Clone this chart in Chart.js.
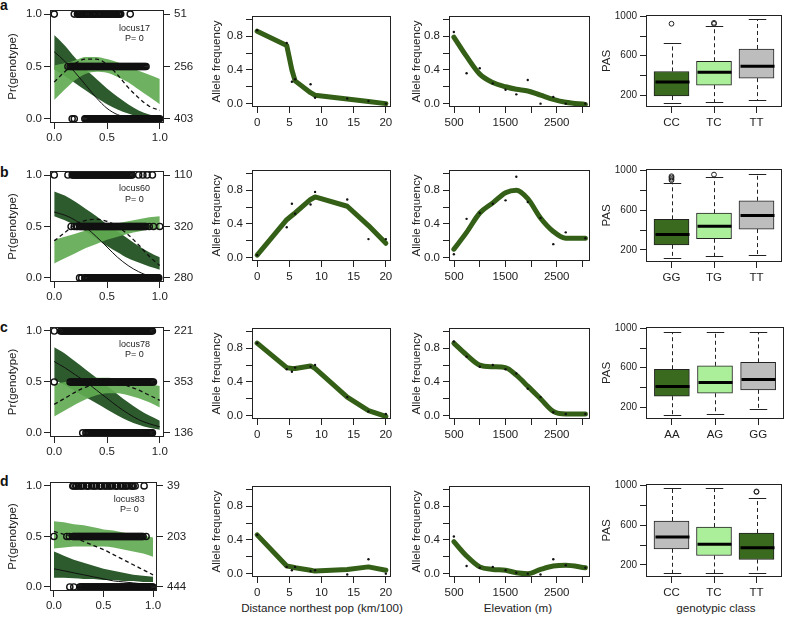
<!DOCTYPE html>
<html>
<head>
<meta charset="utf-8">
<title>Genotype clines</title>
<script src="https://cdn.jsdelivr.net/npm/chart.js@4.4.1/dist/chart.umd.min.js"></script>
<style>
  html, body { margin: 0; padding: 0; background: #fff; }
  body { position: relative; width: 787px; height: 618px; overflow: hidden; font-family: "Liberation Sans", Arial, sans-serif; }
  canvas { position: absolute; }
  .tag { position: absolute; left: 0; font: bold 14px "Liberation Sans", Arial, sans-serif; line-height: 14px; color: #111; }
  .xt { position: absolute; top: 601px; width: 240px; margin-left: -120px; text-align: center; font-size: 11.6px; line-height: 14px; color: #222; white-space: nowrap; }
</style>
</head>
<body>
<div class="tag" style="top:-2px">a</div>
<div class="tag" style="top:165px">b</div>
<div class="tag" style="top:320px">c</div>
<div class="tag" style="top:474px">d</div>
<div class="xt" style="left:322px">Distance northest pop (km/100)</div>
<div class="xt" style="left:518px">Elevation (m)</div>
<div class="xt" style="left:716px">genotypic class</div>
<script>
// ---------- data ----------
var loci = ['locus17', 'locus60', 'locus78', 'locus83'];
var genoCounts = [[51, 256, 403], [110, 320, 280], [221, 353, 136], [39, 203, 444]];

var probTicks = [0, 0.5, 1];
var probLabels = ['0.0', '0.5', '1.0'];
var fitX = [0, 0.1, 0.2, 0.3, 0.4, 0.5, 0.6, 0.7, 0.8, 0.9, 1];

var darkHi = [
  [0.80, 0.70, 0.58, 0.47, 0.38, 0.29, 0.21, 0.14, 0.08, 0.04, 0.02],
  [0.84, 0.80, 0.74, 0.67, 0.60, 0.52, 0.45, 0.38, 0.31, 0.25, 0.20],
  [0.84, 0.78, 0.70, 0.62, 0.54, 0.46, 0.38, 0.30, 0.23, 0.17, 0.12],
  [0.35, 0.31, 0.27, 0.24, 0.21, 0.18, 0.16, 0.14, 0.12, 0.11, 0.10]
];
var darkLo = [
  [0.47, 0.41, 0.34, 0.27, 0.20, 0.14, 0.09, 0.05, 0.02, 0.01, 0.00],
  [0.60, 0.56, 0.51, 0.45, 0.38, 0.31, 0.25, 0.19, 0.15, 0.11, 0.08],
  [0.52, 0.47, 0.41, 0.35, 0.29, 0.23, 0.17, 0.12, 0.08, 0.05, 0.03],
  [0.09, 0.09, 0.085, 0.08, 0.08, 0.07, 0.07, 0.06, 0.06, 0.05, 0.05]
];
var lightHi = [
  [0.51, 0.53, 0.56, 0.59, 0.59, 0.57, 0.54, 0.50, 0.46, 0.42, 0.38],
  [0.37, 0.40, 0.43, 0.46, 0.49, 0.51, 0.53, 0.55, 0.57, 0.59, 0.60],
  [0.48, 0.50, 0.52, 0.53, 0.54, 0.54, 0.53, 0.52, 0.50, 0.48, 0.46],
  [0.65, 0.64, 0.62, 0.61, 0.59, 0.57, 0.56, 0.54, 0.52, 0.51, 0.49]
];
var lightLo = [
  [0.18, 0.28, 0.37, 0.43, 0.45, 0.44, 0.40, 0.35, 0.28, 0.21, 0.14],
  [0.14, 0.19, 0.24, 0.29, 0.33, 0.37, 0.40, 0.43, 0.45, 0.47, 0.47],
  [0.16, 0.22, 0.28, 0.33, 0.37, 0.39, 0.39, 0.37, 0.34, 0.30, 0.25],
  [0.38, 0.39, 0.40, 0.40, 0.40, 0.40, 0.39, 0.37, 0.35, 0.33, 0.30]
];
var solidFit = [
  [0.64, 0.55, 0.44, 0.32, 0.20, 0.10, 0.04, 0.015, 0.005, 0.0, 0.0],
  [0.64, 0.61, 0.56, 0.49, 0.40, 0.30, 0.20, 0.12, 0.06, 0.02, 0.01],
  [0.70, 0.64, 0.57, 0.50, 0.42, 0.34, 0.26, 0.19, 0.13, 0.09, 0.06],
  [0.18, 0.16, 0.14, 0.12, 0.10, 0.08, 0.06, 0.05, 0.04, 0.03, 0.02]
];
var dashFit = [
  [0.35, 0.45, 0.53, 0.57, 0.57, 0.52, 0.42, 0.30, 0.20, 0.12, 0.08],
  [0.36, 0.44, 0.52, 0.56, 0.57, 0.55, 0.50, 0.42, 0.32, 0.21, 0.12],
  [0.28, 0.34, 0.40, 0.45, 0.48, 0.50, 0.49, 0.46, 0.42, 0.37, 0.32],
  [0.55, 0.52, 0.49, 0.45, 0.41, 0.37, 0.32, 0.27, 0.22, 0.17, 0.12]
];

// individual positions (x) per genotype: homozygote 1, heterozygote, homozygote 0
var hom1X = [
  [0, 0.19, 0.22, 0.225, 0.23, 0.24, 0.25, 0.26, 0.27, 0.285, 0.3, 0.31, 0.32, 0.33, 0.345, 0.36, 0.37, 0.38, 0.39, 0.405, 0.42, 0.43, 0.44, 0.45, 0.465, 0.48, 0.49, 0.5, 0.51, 0.52, 0.53, 0.545, 0.56, 0.57, 0.58, 0.59, 0.605, 0.61, 0.62, 0.63, 0.72],
  [0, 0.13, 0.17, 0.18, 0.19, 0.2, 0.21, 0.22, 0.23, 0.24, 0.25, 0.26, 0.27, 0.28, 0.29, 0.3, 0.31, 0.32, 0.33, 0.34, 0.35, 0.36, 0.37, 0.38, 0.39, 0.4, 0.41, 0.42, 0.43, 0.44, 0.45, 0.46, 0.47, 0.48, 0.49, 0.5, 0.51, 0.52, 0.53, 0.54, 0.55, 0.56, 0.57, 0.58, 0.59, 0.6, 0.61, 0.62, 0.63, 0.64, 0.65, 0.66, 0.67, 0.68, 0.69, 0.7, 0.71, 0.72, 0.73, 0.74, 0.8, 0.84, 0.88, 0.93],
  [0, 0.06, 0.07, 0.08, 0.09, 0.1, 0.11, 0.12, 0.13, 0.14, 0.15, 0.16, 0.17, 0.18, 0.19, 0.2, 0.21, 0.22, 0.23, 0.24, 0.25, 0.26, 0.27, 0.28, 0.29, 0.3, 0.31, 0.32, 0.33, 0.34, 0.35, 0.36, 0.37, 0.38, 0.39, 0.4, 0.41, 0.42, 0.43, 0.44, 0.45, 0.46, 0.47, 0.48, 0.49, 0.5, 0.51, 0.52, 0.53, 0.54, 0.55, 0.56, 0.57, 0.58, 0.59, 0.6, 0.61, 0.62, 0.63, 0.64, 0.65, 0.66, 0.67, 0.68, 0.69, 0.7, 0.71, 0.72, 0.73, 0.74, 0.75, 0.76, 0.77, 0.78, 0.79, 0.8, 0.81, 0.82, 0.83, 0.84, 0.85, 0.86, 0.87, 0.88, 0.89, 0.9, 0.91, 0.92, 0.93],
  [0.19, 0.2, 0.22, 0.23, 0.25, 0.27, 0.28, 0.3, 0.33, 0.34, 0.35, 0.38, 0.4, 0.41, 0.43, 0.46, 0.47, 0.48, 0.51, 0.52, 0.54, 0.56, 0.57, 0.59, 0.62, 0.63, 0.64, 0.67, 0.68, 0.7, 0.72, 0.73, 0.75, 0.78, 0.79, 0.8, 0.82, 0.91]
];
var hetX = [
  [0.13, 0.15, 0.16, 0.17, 0.18, 0.19, 0.2, 0.21, 0.22, 0.23, 0.24, 0.25, 0.26, 0.27, 0.28, 0.29, 0.3, 0.31, 0.32, 0.33, 0.34, 0.35, 0.36, 0.37, 0.38, 0.39, 0.4, 0.41, 0.42, 0.43, 0.44, 0.45, 0.46, 0.47, 0.48, 0.49, 0.5, 0.51, 0.52, 0.53, 0.54, 0.55, 0.56, 0.57, 0.58, 0.59, 0.6, 0.61, 0.62, 0.63, 0.64, 0.65, 0.66, 0.67, 0.68, 0.69, 0.7, 0.71, 0.72, 0.73, 0.74, 0.75, 0.76, 0.77, 0.78, 0.79, 0.8, 0.81, 0.82, 0.83, 0.84, 0.85, 0.86, 0.87],
  [0.16, 0.19, 0.21, 0.22, 0.24, 0.25, 0.26, 0.27, 0.28, 0.29, 0.3, 0.31, 0.32, 0.33, 0.34, 0.35, 0.36, 0.37, 0.38, 0.39, 0.4, 0.41, 0.42, 0.43, 0.44, 0.45, 0.46, 0.47, 0.48, 0.49, 0.5, 0.51, 0.52, 0.53, 0.54, 0.55, 0.56, 0.57, 0.58, 0.59, 0.6, 0.61, 0.62, 0.63, 0.64, 0.65, 0.66, 0.67, 0.68, 0.69, 0.7, 0.71, 0.72, 0.73, 0.74, 0.75, 0.76, 0.77, 0.78, 0.79, 0.8, 0.81, 0.82, 0.83, 0.84, 0.85, 0.86, 0.87, 0.9, 0.94, 1.0],
  [0, 0.15, 0.16, 0.17, 0.18, 0.19, 0.2, 0.21, 0.22, 0.23, 0.24, 0.25, 0.26, 0.27, 0.28, 0.29, 0.3, 0.31, 0.32, 0.33, 0.34, 0.35, 0.36, 0.37, 0.38, 0.39, 0.4, 0.41, 0.42, 0.43, 0.44, 0.45, 0.46, 0.47, 0.48, 0.49, 0.5, 0.51, 0.52, 0.53, 0.54, 0.55, 0.56, 0.57, 0.58, 0.59, 0.6, 0.61, 0.62, 0.63, 0.64, 0.65, 0.66, 0.67, 0.68, 0.69, 0.7, 0.71, 0.72, 0.73, 0.74, 0.75, 0.76, 0.77, 0.78, 0.79, 0.8, 0.81, 0.82, 0.83, 0.84, 0.85, 0.86, 0.87, 0.88, 0.89, 0.9, 0.91, 0.92, 0.93, 0.94],
  [0, 0.13, 0.155, 0.19, 0.2, 0.21, 0.22, 0.23, 0.24, 0.25, 0.26, 0.27, 0.28, 0.29, 0.3, 0.31, 0.32, 0.33, 0.34, 0.35, 0.36, 0.37, 0.38, 0.39, 0.4, 0.41, 0.42, 0.43, 0.44, 0.45, 0.46, 0.47, 0.48, 0.49, 0.5, 0.51, 0.52, 0.53, 0.54, 0.55, 0.56, 0.57, 0.58, 0.59, 0.6, 0.61, 0.62, 0.63, 0.64, 0.65, 0.66, 0.67, 0.68, 0.69, 0.7, 0.71, 0.72, 0.73, 0.74, 0.75, 0.76, 0.77, 0.78, 0.79, 0.8, 0.81, 0.82, 0.83, 0.84, 0.85, 0.86, 0.87, 0.88, 0.89, 0.9, 0.93]
];
var hom0X = [
  [0.17, 0.19, 0.29, 0.3, 0.31, 0.32, 0.33, 0.34, 0.35, 0.36, 0.37, 0.38, 0.39, 0.4, 0.41, 0.42, 0.43, 0.44, 0.45, 0.46, 0.47, 0.48, 0.49, 0.5, 0.51, 0.52, 0.53, 0.54, 0.55, 0.56, 0.57, 0.58, 0.59, 0.6, 0.61, 0.62, 0.63, 0.64, 0.65, 0.66, 0.67, 0.68, 0.69, 0.7, 0.71, 0.72, 0.73, 0.74, 0.75, 0.76, 0.77, 0.78, 0.79, 0.8, 0.81, 0.82, 0.83, 0.84, 0.85, 0.86, 0.87, 0.88, 0.89, 0.9, 0.91, 0.92, 0.93, 0.94, 0.95, 0.96, 0.97, 0.98, 0.99, 1.0],
  [0.24, 0.26, 0.29, 0.3, 0.31, 0.32, 0.33, 0.34, 0.35, 0.36, 0.37, 0.38, 0.39, 0.4, 0.41, 0.42, 0.43, 0.44, 0.45, 0.46, 0.47, 0.48, 0.49, 0.5, 0.51, 0.52, 0.53, 0.54, 0.55, 0.56, 0.57, 0.58, 0.59, 0.6, 0.61, 0.62, 0.63, 0.64, 0.65, 0.66, 0.67, 0.68, 0.69, 0.7, 0.71, 0.72, 0.73, 0.74, 0.75, 0.76, 0.77, 0.78, 0.79, 0.8, 0.81, 0.82, 0.83, 0.84, 0.85, 0.86, 0.87, 0.88, 0.89, 0.9, 0.91, 0.92, 0.93, 0.94, 0.95, 0.96, 0.97, 0.98, 0.99],
  [0.27, 0.3, 0.31, 0.32, 0.33, 0.34, 0.35, 0.36, 0.37, 0.38, 0.39, 0.4, 0.41, 0.42, 0.43, 0.44, 0.45, 0.46, 0.47, 0.48, 0.49, 0.5, 0.51, 0.52, 0.53, 0.54, 0.55, 0.56, 0.57, 0.58, 0.59, 0.6, 0.61, 0.62, 0.63, 0.64, 0.65, 0.66, 0.67, 0.68, 0.69, 0.7, 0.71, 0.72, 0.73, 0.74, 0.75, 0.76, 0.77, 0.78, 0.79, 0.8, 0.81, 0.82, 0.83, 0.84, 0.85, 0.86, 0.87, 0.88, 0.89, 0.9, 0.91, 0.92, 0.93],
  [0.16, 0.2, 0.26, 0.27, 0.28, 0.29, 0.3, 0.31, 0.32, 0.33, 0.34, 0.35, 0.36, 0.37, 0.38, 0.39, 0.4, 0.41, 0.42, 0.43, 0.44, 0.45, 0.46, 0.47, 0.48, 0.49, 0.5, 0.51, 0.52, 0.53, 0.54, 0.55, 0.56, 0.57, 0.58, 0.59, 0.6, 0.61, 0.62, 0.63, 0.64, 0.65, 0.66, 0.67, 0.68, 0.69, 0.7, 0.71, 0.72, 0.73, 0.74, 0.75, 0.76, 0.77, 0.78, 0.79, 0.8, 0.81, 0.82, 0.83, 0.84, 0.85, 0.86, 0.87, 0.88, 0.89, 0.9, 0.91, 0.92, 0.93, 0.94, 0.95, 0.96, 0.97, 0.98, 0.99, 1.0]
];

var freqTicks = [0, 0.2, 0.4, 0.6, 0.8, 1];
var freqLabels = ['0.0', '', '0.4', '', '0.8', ''];

var distTicks = [0, 5, 10, 15, 20];
var distLabels = ['0', '5', '10', '15', '20'];
var distSites = [0, 4.6, 5.4, 5.9, 8.3, 9.0, 14.0, 17.3, 20];
var distFit = [
  [0.86, 0.69, 0.40, 0.27, 0.13, 0.10, 0.055, 0.025, 0.0],
  [0.03, 0.45, 0.50, 0.53, 0.69, 0.72, 0.61, 0.38, 0.17],
  [0.86, 0.57, 0.56, 0.56, 0.59, 0.56, 0.22, 0.06, -0.01],
  [0.46, 0.09, 0.08, 0.07, 0.04, 0.03, 0.05, 0.08, 0.04]
];
var distObs = [
  [0.87, 0.72, 0.26, 0.29, 0.23, 0.07, 0.06, 0.03, 0.0],
  [0.03, 0.36, 0.64, 0.52, 0.63, 0.78, 0.69, 0.22, 0.22],
  [0.86, 0.55, 0.52, 0.57, 0.58, 0.60, 0.22, 0.05, 0.02],
  [0.46, 0.08, 0.04, 0.08, 0.03, 0.04, -0.01, 0.17, 0.0]
];

var elevTicks = [500, 1000, 1500, 2000, 2500, 3000];
var elevLabels = ['500', '', '1500', '', '2500', ''];
var elevSites = [495, 743, 1000, 1254, 1503, 1713, 1936, 2185, 2434, 2677, 3060];
var elevFit = [
  [0.79, 0.56, 0.35, 0.25, 0.20, 0.17, 0.15, 0.10, 0.05, 0.016, -0.01],
  [0.10, 0.30, 0.53, 0.65, 0.77, 0.80, 0.70, 0.47, 0.31, 0.23, 0.23],
  [0.86, 0.72, 0.60, 0.58, 0.57, 0.48, 0.35, 0.20, 0.05, 0.02, 0.02],
  [0.38, 0.21, 0.08, 0.05, 0.04, 0.01, 0.0, 0.05, 0.09, 0.10, 0.07]
];
var elevObs = [
  [0.85, 0.36, 0.42, 0.24, 0.165, 0.11, 0.28, 0.0, 0.08, 0.0, 0.0],
  [0.04, 0.46, 0.53, 0.64, 0.68, 0.96, 0.66, 0.47, 0.16, 0.30, 0.23],
  [0.88, 0.70, 0.58, 0.60, 0.55, 0.50, 0.32, 0.22, 0.04, 0.02, 0.02],
  [0.44, 0.09, 0.07, 0.08, 0.04, 0.01, 0.0, -0.01, 0.17, 0.10, 0.07]
];

var pasTicks = [200, 400, 600, 800, 1000];
var pasLabels = ['200', '', '600', '', '1000'];
var boxClasses = [['CC', 'TC', 'TT'], ['GG', 'TG', 'TT'], ['AA', 'AG', 'GG'], ['CC', 'TC', 'TT']];
var pasMin = [[116, 133, 149], [115, 136, 149], [120, 130, 180], [116, 116, 116]];
var pasQ1  = [[190, 301, 372], [251, 312, 410], [310, 340, 375], [362, 295, 254]];
var pasMed = [[332, 433, 494], [356, 437, 546], [410, 450, 480], [480, 409, 372]];
var pasQ3  = [[440, 544, 669], [508, 570, 695], [585, 620, 655], [642, 581, 521]];
var pasMax = [[730, 905, 973], [871, 936, 969], [960, 960, 960], [970, 970, 872]];
var pasOut = [[[926], [925, 935], []], [[902, 915, 930, 942], [959], []], [[], [], []], [[], [], [935, 940]]];

// ---------- styles / layout ----------
var INK = '#222';
var DARK_BAND = '#2d5b2d';
var LIGHT_BAND = 'rgba(98,170,82,0.92)';
var FIT_GREEN = '#345f17';
var BOX_DARK = '#3a6a1e', BOX_LIGHT = '#abef9a', BOX_GRAY = '#bdbdbd';
var boxColors = [
  [BOX_DARK, BOX_LIGHT, BOX_GRAY], [BOX_DARK, BOX_LIGHT, BOX_GRAY],
  [BOX_DARK, BOX_LIGHT, BOX_GRAY], [BOX_GRAY, BOX_LIGHT, BOX_DARK]
];
var BOX_W = 35;

// plot boxes [left, top, right, bottom] per row
var box1 = [[50, 9, 164, 123], [50, 170, 164, 282], [50, 326, 164, 437], [50, 481, 157, 591]];
var box2 = [[252, 16, 391, 107], [252, 170, 391, 261], [252, 328, 391, 419], [252, 486, 391, 577]];
var box3 = [[449, 16, 590, 107], [449, 170, 590, 261], [449, 328, 590, 419], [449, 486, 590, 577]];
var box4 = [[646, 15, 784, 107], [646, 169, 784, 262], [646, 327, 784, 419], [646, 484, 784, 577]];

Chart.defaults.font.family = '"Liberation Sans", Arial, sans-serif';
Chart.defaults.color = INK;
Chart.defaults.animation = false;
Chart.defaults.plugins.legend.display = false;
Chart.defaults.plugins.tooltip.enabled = false;

function pts(xs, ys) { return xs.map(function (x, i) { return {x: x, y: ys[i]}; }); }
function level(xs, y) { return xs.map(function (x) { return {x: x, y: y}; }); }

function ax(o) {
  var horiz = o.pos === 'bottom';
  return {
    type: 'linear', position: o.pos, min: o.min, max: o.max, offset: false,
    afterBuildTicks: function (s) { s.ticks = o.ticks.map(function (v) { return {value: v}; }); },
    afterFit: function (s) { if (horiz) s.height = o.size; else s.width = o.size; },
    grid: {display: true, drawOnChartArea: false, drawTicks: true, tickLength: 6, color: INK, offset: false},
    border: {display: false},
    ticks: {autoSkip: false, maxRotation: 0, minRotation: 0, padding: o.pad == null ? 3 : o.pad, color: INK,
      font: {size: o.font || 11.5}, callback: function (v, i) { return o.labels[i]; }},
    title: {display: !!o.title, text: o.title || '', color: INK, font: {size: 11.5},
      padding: {top: o.titlePad || 0, bottom: 0}}
  };
}

var framePlugin = {
  id: 'frame',
  afterDraw: function (chart) {
    var a = chart.chartArea, ctx = chart.ctx;
    ctx.save();
    ctx.strokeStyle = INK; ctx.lineWidth = 1;
    ctx.strokeRect(Math.round(a.left) + 0.5, Math.round(a.top) + 0.5, Math.round(a.right - a.left) - 1, Math.round(a.bottom - a.top) - 1);
    ctx.restore();
  }
};

function locusPlugin(r) {
  return {
    id: 'locusText',
    afterDatasetsDraw: function (chart) {
      var ctx = chart.ctx, xs = chart.scales.x, ys = chart.scales.y;
      ctx.save();
      ctx.font = '9px "Liberation Sans", Arial, sans-serif';
      ctx.fillStyle = INK; ctx.textAlign = 'center'; ctx.textBaseline = 'middle';
      ctx.fillText(loci[r], xs.getPixelForValue(0.76), ys.getPixelForValue(0.865));
      ctx.fillText('P= 0', xs.getPixelForValue(0.76), ys.getPixelForValue(0.765));
      ctx.restore();
    }
  };
}

function boxDecor(r) {
  return {
    id: 'boxDecor',
    afterDatasetsDraw: function (chart) {
      var ctx = chart.ctx, xs = chart.scales.x, ys = chart.scales.y;
      var half = BOX_W / 2, cap = BOX_W / 4;
      function seg(x1, y1, x2, y2) { ctx.beginPath(); ctx.moveTo(x1, y1); ctx.lineTo(x2, y2); ctx.stroke(); }
      ctx.save();
      for (var i = 0; i < 3; i++) {
        var cx = Math.round(xs.getPixelForValue(i + 1)) + 0.5;
        var yMin = Math.round(ys.getPixelForValue(pasMin[r][i])) + 0.5;
        var yMax = Math.round(ys.getPixelForValue(pasMax[r][i])) + 0.5;
        ctx.strokeStyle = INK; ctx.lineWidth = 1;
        ctx.setLineDash([4, 3]);
        seg(cx, ys.getPixelForValue(pasQ3[r][i]), cx, yMax);
        seg(cx, ys.getPixelForValue(pasQ1[r][i]), cx, yMin);
        ctx.setLineDash([]);
        seg(cx - cap, yMax, cx + cap, yMax);
        seg(cx - cap, yMin, cx + cap, yMin);
        ctx.strokeStyle = '#000'; ctx.lineWidth = 3;
        var ym = ys.getPixelForValue(pasMed[r][i]);
        seg(cx - half + 0.5, ym, cx + half - 0.5, ym);
      }
      ctx.restore();
    }
  };
}

function makeChart(box, pad, config, rightAxis) {
  var w = box[2] - box[0] + pad[0] + pad[2], h = box[3] - box[1] + pad[1] + pad[3];
  var cv = document.createElement('canvas');
  cv.width = w; cv.height = h;
  cv.style.left = (box[0] - pad[0]) + 'px'; cv.style.top = (box[1] - pad[1]) + 'px';
  cv.style.width = w + 'px'; cv.style.height = h + 'px';
  document.body.appendChild(cv);
  config.options.responsive = false;
  config.options.devicePixelRatio = 1;
  config.options.layout = {padding: {left: 0, top: pad[1], right: rightAxis ? 0 : pad[2], bottom: 0}};
  return new Chart(cv, config);
}

function circleSet(xs, y) {
  return {data: level(xs, y), showLine: false, pointRadius: 3.1, pointBorderWidth: 1.4,
    pointBorderColor: '#111', pointBackgroundColor: 'rgba(0,0,0,0)', borderColor: '#111', fill: false};
}
function edgeSet(xs, ys, fillColor) {
  return {data: pts(xs, ys), borderWidth: 0, borderColor: 'rgba(0,0,0,0)', pointRadius: 0,
    cubicInterpolationMode: 'monotone', fill: fillColor ? '-1' : false, backgroundColor: fillColor || 'rgba(0,0,0,0)'};
}

for (var r = 0; r < 4; r++) {
  var last = r === 3;

  // column 1: genotype probability along the cline
  var b1 = box1[r];
  var bot1 = last ? 618 - b1[3] : 30;
  makeChart(b1, [b1[0], 10, 40, bot1], {
    type: 'line',
    data: {datasets: [
      circleSet(hom1X[r], 1), circleSet(hetX[r], 0.5), circleSet(hom0X[r], 0),
      {data: pts(fitX, solidFit[r]), borderColor: '#111', borderWidth: 1, pointRadius: 0, cubicInterpolationMode: 'monotone', fill: false},
      {data: pts(fitX, dashFit[r]), borderColor: '#111', borderWidth: 1.3, borderDash: [4, 3], pointRadius: 0, cubicInterpolationMode: 'monotone', fill: false},
      edgeSet(fitX, lightHi[r]), edgeSet(fitX, lightLo[r], LIGHT_BAND),
      edgeSet(fitX, darkHi[r]), edgeSet(fitX, darkLo[r], DARK_BAND)
    ]},
    options: {scales: {
      x: ax({pos: 'bottom', min: -0.04, max: 1.04, ticks: probTicks, labels: probLabels, size: bot1, pad: 2}),
      y: ax({pos: 'left', min: -0.04, max: 1.04, ticks: probTicks, labels: probLabels, size: b1[0], pad: 2, title: 'Pr(genotype)', titlePad: 6}),
      y2: ax({pos: 'right', min: -0.04, max: 1.04, ticks: probTicks, labels: genoCounts[r].slice().reverse().map(String), size: 40, pad: 4})
    }},
    plugins: [framePlugin, locusPlugin(r)]
  }, true);

  // column 2: allele frequency vs distance
  var b2 = box2[r];
  var bot2 = last ? 618 - b2[3] : 30;
  makeChart(b2, [b2[0] - 200, 10, 10, bot2], {
    type: 'line',
    data: {datasets: [
      {data: pts(distSites, distObs[r]), showLine: false, pointRadius: 1.2, pointBorderWidth: 0, pointBackgroundColor: '#111'},
      {data: pts(distSites, distFit[r]), borderColor: FIT_GREEN, borderWidth: 5, pointRadius: 0, borderJoinStyle: 'round', borderCapStyle: 'round', fill: false}
    ]},
    options: {scales: {
      x: ax({pos: 'bottom', min: -0.8, max: 20.8, ticks: distTicks, labels: distLabels, size: bot2}),
      y: ax({pos: 'left', min: -0.04, max: 1.04, ticks: freqTicks, labels: freqLabels, size: b2[0] - 200, title: 'Allele frequency', titlePad: 10})
    }},
    plugins: [framePlugin]
  });

  // column 3: allele frequency vs elevation
  var b3 = box3[r];
  makeChart(b3, [b3[0] - 400, 10, 10, bot2], {
    type: 'line',
    data: {datasets: [
      {data: pts(elevSites, elevObs[r]), showLine: false, pointRadius: 1.2, pointBorderWidth: 0, pointBackgroundColor: '#111'},
      {data: pts(elevSites, elevFit[r]), borderColor: FIT_GREEN, borderWidth: 5, pointRadius: 0, cubicInterpolationMode: 'monotone', borderCapStyle: 'round', fill: false}
    ]},
    options: {scales: {
      x: ax({pos: 'bottom', min: 400, max: 3150, ticks: elevTicks, labels: elevLabels, size: bot2}),
      y: ax({pos: 'left', min: -0.04, max: 1.04, ticks: freqTicks, labels: freqLabels, size: b3[0] - 400, title: 'Allele frequency', titlePad: 10})
    }},
    plugins: [framePlugin]
  });

  // column 4: PAS by genotypic class
  var b4 = box4[r];
  var outliers = [];
  pasOut[r].forEach(function (vals, i) { vals.forEach(function (v) { outliers.push({x: i + 1, y: v}); }); });
  var boxes = boxClasses[r].map(function (c, i) { return {x: i + 1, y: [pasQ1[r][i], pasQ3[r][i]]}; });
  makeChart(b4, [b4[0] - 600, 10, 3, last ? 618 - b4[3] : 30], {
    type: 'bar',
    data: {datasets: [
      {type: 'scatter', data: outliers, pointRadius: 2.4, pointBorderWidth: 1, pointBorderColor: INK, pointBackgroundColor: 'rgba(0,0,0,0)'},
      {type: 'bar', data: boxes, backgroundColor: boxColors[r], borderColor: INK, borderWidth: 1, borderSkipped: false, barThickness: BOX_W}
    ]},
    options: {scales: {
      x: ax({pos: 'bottom', min: 0.4, max: 3.6, ticks: [1, 2, 3], labels: boxClasses[r], size: last ? 618 - b4[3] : 30}),
      y: ax({pos: 'left', min: 78, max: 1015, ticks: pasTicks, labels: pasLabels, size: b4[0] - 600, font: 10, title: 'PAS', titlePad: 0})
    }},
    plugins: [framePlugin, boxDecor(r)]
  });
}
</script>
</body>
</html>
